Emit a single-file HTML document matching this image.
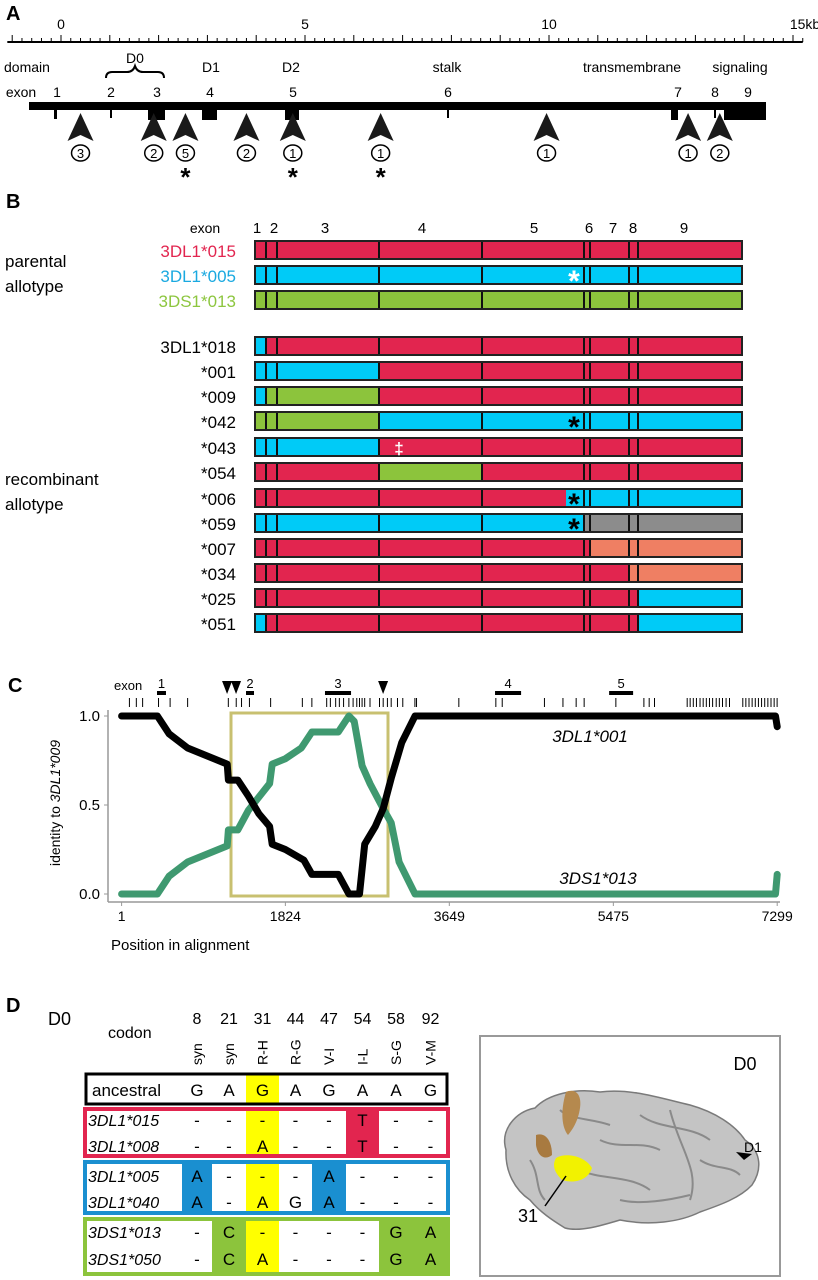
<!DOCTYPE html>
<html><head><meta charset="utf-8"><style>
html,body{margin:0;padding:0;background:#fff;}
svg{display:block;font-family:"Liberation Sans",Arial,sans-serif;}
</style></head><body>
<svg id="fig" width="818" height="1280" viewBox="0 0 818 1280" xmlns="http://www.w3.org/2000/svg">
<!-- PANEL A -->
<g id="panelA">
<text x="6" y="20" font-size="20" font-weight="bold">A</text>
<g id="ruler"></g>
<g font-size="14">
<text x="4" y="72">domain</text>
<text x="135" y="63" text-anchor="middle">D0</text>
<path d="M106,78 q0,-6 6,-6 h15 q6,0 8,-6 q2,6 8,6 h15 q6,0 6,6" fill="none" stroke="#000" stroke-width="2"/>
<text x="211" y="72" text-anchor="middle">D1</text>
<text x="291" y="72" text-anchor="middle">D2</text>
<text x="447" y="72" text-anchor="middle">stalk</text>
<text x="632" y="72" text-anchor="middle">transmembrane</text>
<text x="740" y="72" text-anchor="middle">signaling</text>
</g>
<g font-size="14" text-anchor="middle">
<text x="21" y="97">exon</text>
<text x="57" y="97">1</text><text x="111" y="97">2</text><text x="157" y="97">3</text><text x="210" y="97">4</text><text x="293" y="97">5</text><text x="448" y="97">6</text><text x="678" y="97">7</text><text x="715" y="97">8</text><text x="748" y="97">9</text>
</g>
<g fill="#000">
<rect x="29" y="102" width="737" height="8"/>
<rect x="724" y="102" width="42" height="18"/>
<rect x="54" y="110" width="3" height="9"/><rect x="110" y="110" width="2" height="8"/>
<rect x="148" y="110" width="17" height="10"/><rect x="202" y="110" width="15" height="10"/>
<rect x="285" y="110" width="14" height="10"/><rect x="447" y="110" width="2" height="8"/>
<rect x="671" y="110" width="7" height="10"/><rect x="714" y="110" width="2" height="8"/>
</g>
<g id="arrowsA"></g>
</g>

<!-- PANEL B -->
<g id="panelB">
<text x="6" y="208" font-size="20" font-weight="bold">B</text>
<text x="205" y="233" font-size="14" text-anchor="middle">exon</text>
<g font-size="17">
<text x="5" y="267">parental</text>
<text x="5" y="292">allotype</text>
<text x="5" y="485">recombinant</text>
<text x="5" y="510">allotype</text>
</g>
<g id="rowsB"></g>
</g>

<!-- PANEL C -->
<g id="panelC">
<text x="8" y="692" font-size="20" font-weight="bold">C</text>
<text x="114" y="690" font-size="13">exon</text>
<g id="chartC"></g>
</g>

<!-- PANEL D -->
<g id="panelD">
<text x="6" y="1012" font-size="20" font-weight="bold">D</text>
<text x="48" y="1025" font-size="18">D0</text>
<text x="108" y="1038" font-size="16">codon</text>
<g id="tableD"></g>
<rect x="480" y="1036" width="300" height="240" fill="#fff" stroke="#999" stroke-width="2"/>
<text x="745" y="1070" font-size="18" text-anchor="middle">D0</text>
<g>
<path d="M506,1150 C500,1130 515,1112 535,1108 C548,1094 575,1088 600,1092 C630,1088 660,1098 690,1105 C715,1112 735,1125 745,1140 C762,1152 762,1170 752,1185 C740,1198 720,1205 700,1212 C680,1222 650,1226 620,1220 C600,1226 580,1232 565,1228 C552,1220 540,1212 530,1200 C515,1190 505,1172 506,1150 Z" fill="#c4c4c4" stroke="#7a7a7a" stroke-width="1.5"/>
<path d="M560,1110 C570,1120 590,1118 610,1125 M600,1140 C620,1150 640,1140 660,1150 M580,1170 C600,1180 630,1175 650,1190 M640,1115 C660,1130 690,1125 710,1140 M620,1200 C640,1205 670,1200 690,1195 M700,1160 C715,1170 730,1165 740,1175 M530,1160 C540,1175 535,1190 545,1200 M670,1110 C680,1150 700,1170 690,1200" fill="none" stroke="#8a8a8a" stroke-width="2"/>
<path d="M566,1092 C575,1088 582,1094 580,1108 C578,1122 572,1130 568,1135 C562,1128 560,1112 566,1092 Z" fill="#b5894e"/>
<path d="M536,1135 C545,1132 552,1140 552,1155 C546,1160 538,1158 536,1145 Z" fill="#a87a40"/>
<path d="M556,1158 C566,1152 585,1156 592,1168 C588,1180 575,1184 562,1180 C554,1172 552,1165 556,1158 Z" fill="#f2f200"/>
</g>
<line x1="545" y1="1206" x2="566" y2="1176" stroke="#000" stroke-width="1.5"/>
<text x="518" y="1222" font-size="18">31</text>
<path d="M736,1152 l16,2 l-8,6 z" fill="#000"/>
<text x="744" y="1152" font-size="14">D1</text>
</g>
</svg>
<script>
const NS="http://www.w3.org/2000/svg";
function mk(parent,tag,attrs,text){const e=document.createElementNS(NS,tag);for(const k in attrs)e.setAttribute(k,attrs[k]);if(text!==undefined)e.textContent=text;parent.appendChild(e);return e;}

/* ---------- Panel A ---------- */
const rulerKbMin=-1.1, rulerKbMax=15.2;
const rulerLabels=["0","5","10","15kb"];
const rulerLabelKb=[0,5,10,15];
const siteKb=[0.4,1.9,2.55,3.8,4.75,6.55,9.95,12.85,13.5];
const siteCounts=["3","2","5","2","1","1","1","1","2"];
const siteStar=[false,false,true,false,true,true,false,false,false];
function kx(kb){return 61+kb*48.8;}
const ruler=document.getElementById('ruler');
let rl=mk(ruler,'line',{x1:kx(rulerKbMin),x2:kx(rulerKbMax),y1:42,y2:42,stroke:'#000','stroke-width':2});


for(let i=-5;i<=76;i++){const kb=i*0.2;const major=(i%5===0);
 const t=mk(ruler,'line',{x1:kx(kb),x2:kx(kb),y1:major?35:38,y2:42,stroke:'#000','stroke-width':1});
 
 }
rulerLabels.forEach((s,i)=>{const t=mk(ruler,'text',{x:kx(rulerLabelKb[i])+(i===3?12:0),y:29,'font-size':14,'text-anchor':'middle'},s);
 
 });
const arrowsA=document.getElementById('arrowsA');
siteKb.forEach((kb,i)=>{const x=kx(kb);
 const p=mk(arrowsA,'path',{d:`M${x},113 L${x+13},141 L${x},135 L${x-13},141 Z`,fill:'#1a1a1a'});
 
 
 const c=mk(arrowsA,'ellipse',{cx:x,cy:153,rx:9,ry:8,fill:'#fff',stroke:'#000','stroke-width':1.5});
 
 
 const t=mk(arrowsA,'text',{x:x,y:158,'font-size':13,'text-anchor':'middle'},siteCounts[i]);
 
 
 if(siteStar[i]){const s=mk(arrowsA,'text',{x:x,y:186,'font-size':26,'font-weight':'bold','text-anchor':'middle'},'*');
 
 }
});

/* ---------- Panel B ---------- */
const exonNums=["1","2","3","4","5","6","7","8","9"];
const segBounds=[255,266,277,379,482,584,590,629,638,742];
const exonLabelX=[257,274,325,422,534,589,613,633,684];
const rowNames=["3DL1*015","3DL1*005","3DS1*013","3DL1*018","*001","*009","*042","*043","*054","*006","*059","*007","*034","*025","*051"];
const rowNameColor=["#e2254f","#1aa9e0","#8dc63f","#000","#000","#000","#000","#000","#000","#000","#000","#000","#000","#000","#000"];
const rowTop=[241,266,291,337,362,387,412,438,463,489,514,539,564,589,614];
const rowSegs=["RRRRRRRRR","BBBBBBBBB","GGGGGGGGG","BRRRRRRRR","BBBRRRRRR","BGGRRRRRR","GGGBBBBBB","BBBRRRRRR","RRRGRRRRR","RRRRXBBBB","BBBBBYYYY","RRRRRRSSS","RRRRRRRSS","RRRRRRRRB","BRRRRRRRB"];
const rowMark=["","w*","","","","","*","‡","","*","*","","","",""];
const colMap={R:"#e2254f",B:"#00cbf7",G:"#8cc43c",Y:"#8c8c8c",S:"#ef7f63"};
const rowsB=document.getElementById('rowsB');
exonNums.forEach((n,i)=>{const t=mk(rowsB,'text',{x:exonLabelX[i],y:233,'font-size':15,'text-anchor':'middle'},n);
 
 });
rowNames.forEach((nm,r)=>{const y=rowTop[r],h=18;
 const lab=mk(rowsB,'text',{x:236,y:y+16,'font-size':17,'text-anchor':'end',fill:rowNameColor[r]},nm);
 
 
 const g=mk(rowsB,'g',{});
 
 
 for(let s=0;s<9;s++){const code=rowSegs[r][s];const x0=segBounds[s],x1=segBounds[s+1];
  if(code==='X'){const mid=566;
   mk(g,'rect',{x:x0,y:y,width:mid-x0,height:h,fill:colMap.R});
   mk(g,'rect',{x:mid,y:y,width:x1-mid,height:h,fill:colMap.B});
  } else mk(g,'rect',{x:x0,y:y,width:x1-x0,height:h,fill:colMap[code]});}
 for(let s=1;s<9;s++)mk(g,'line',{x1:segBounds[s],x2:segBounds[s],y1:y,y2:y+h,stroke:'#111','stroke-width':2});
 mk(g,'rect',{x:255,y:y,width:487,height:h,fill:'none',stroke:'#222','stroke-width':2});
 const m=rowMark[r];
 if(m){let t;
  if(m==='‡')t=mk(rowsB,'text',{x:399,y:y+16,'font-size':17,'font-weight':'bold',fill:'#fff','text-anchor':'middle'},'‡');
  else t=mk(rowsB,'text',{x:574,y:y+25,'font-size':30,'font-weight':'bold',fill:m==='w*'?'#fff':'#000','text-anchor':'middle'},'*');
  
  }
});

/* ---------- Panel C ---------- */
const posTicks=[1,1824,3649,5475,7299];
const idTicks=[0,0.5,1];
const idTickLabels=["0.0","0.5","1.0"];
const posBlack=[1,400,530,736,1177,1190,1295,1412,1530,1648,1677,1824,2030,2119,2413,2531,2649,2707,2825,2913,3002,3119,3267,7280,7299];
const idBlack=[1,1,0.9,0.82,0.73,0.64,0.64,0.55,0.45,0.38,0.28,0.25,0.19,0.11,0.11,0,0,0.28,0.38,0.48,0.65,0.85,1,1,0.94];
const posGreen=[1,400,530,736,1177,1190,1295,1412,1648,1677,1824,2001,2119,2413,2531,2590,2678,2766,2913,3002,3090,3267,7280,7299];
const idGreen=[0,0,0.1,0.18,0.27,0.36,0.36,0.47,0.62,0.73,0.76,0.82,0.91,0.91,1,0.97,0.72,0.62,0.48,0.4,0.18,0,0,0.11];
const exonCNames=["1","2","3","4","5"];
const exonCStart=[395,1386,2265,4158,5428];
const exonCEnd=[495,1475,2555,4448,5695];
const breakPos=[1175,1275,2912];
const snpPos=[88,165,235,412,541,736,1189,1277,1336,1424,1660,2013,2119,2284,2325,2384,2425,2472,2531,2578,2619,2649,2678,2707,2766,2872,2913,2960,3002,3072,3131,3266,3284,3755,4167,4238,4708,4914,5061,5150,5503,5815,5874,5933,6297,6330,6365,6400,6440,6475,6510,6545,6580,6620,6655,6690,6730,6768,6916,6950,6985,7020,7055,7090,7125,7160,7195,7230,7265,7298];
function px(v){return 121.6+(v-1)/7298*655.6;}
function py(v){return 894-v*178;}
const C=document.getElementById('chartC');
let ax=mk(C,'line',{x1:108,x2:780,y1:902,y2:902,stroke:'#999','stroke-width':1.5});


let ay=mk(C,'line',{x1:108,x2:108,y1:710,y2:902,stroke:'#999','stroke-width':1.5});


posTicks.forEach(v=>{const t=mk(C,'line',{x1:px(v),x2:px(v),y1:902,y2:906,stroke:'#999'});
 
 
 const l=mk(C,'text',{x:px(v),y:921,'font-size':14,'text-anchor':'middle'},String(v));
 
 });
idTicks.forEach((v,i)=>{const t=mk(C,'line',{x1:104,x2:108,y1:py(v),y2:py(v),stroke:'#999'});
 
 
 const l=mk(C,'text',{x:100,y:py(v)+5,'font-size':15,'text-anchor':'end'},idTickLabels[i]);
 
 });
let xt=mk(C,'text',{x:111,y:950,'font-size':15},'Position in alignment');


let yt=mk(C,'text',{x:0,y:0,'font-size':14,'text-anchor':'middle',transform:'translate(60,803) rotate(-90)'});


yt.appendChild(document.createTextNode('identity to '));
mk(yt,'tspan',{'font-style':'italic'},'3DL1*009');
snpPos.forEach(v=>{const t=mk(C,'line',{x1:px(v),x2:px(v),y1:698,y2:707,stroke:'#000','stroke-width':1});
 
 });
exonCNames.forEach((n,i)=>{const x0=px(exonCStart[i]),x1=px(exonCEnd[i]);
 const r=mk(C,'rect',{x:x0,y:691,width:x1-x0,height:4,fill:'#000'});
 
 
 const t=mk(C,'text',{x:(x0+x1)/2,y:688,'font-size':13,'text-anchor':'middle'},n);
 
 });
breakPos.forEach(v=>{const x=px(v);
 const p=mk(C,'path',{d:`M${x-5},681 L${x+5},681 L${x},694 Z`,fill:'#000'});
 
 });
let box=mk(C,'rect',{x:231,y:713,width:157,height:183,fill:'none',stroke:'#c8c070','stroke-width':3});


function line(pos,ids,color,name){const d=pos.map((v,i)=>(i?'L':'M')+px(v).toFixed(1)+','+py(ids[i]).toFixed(1)).join(' ');
 const p=mk(C,'path',{d:d,fill:'none',stroke:color,'stroke-width':7,'stroke-linejoin':'round','stroke-linecap':'round'});
 
 }
line(posGreen,idGreen,'#3f9970','line-3ds1-013');
line(posBlack,idBlack,'#000','line-3dl1-001');
let l1=mk(C,'text',{x:590,y:742,'font-size':17,'font-style':'italic','text-anchor':'middle'},'3DL1*001');


let l2=mk(C,'text',{x:598,y:884,'font-size':17,'font-style':'italic','text-anchor':'middle'},'3DS1*013');



/* ---------- Panel D ---------- */
const codons=["8","21","31","44","47","54","58","92"];
const changes=["syn","syn","R-H","R-G","V-I","I-L","S-G","V-M"];
const colEdges=[182,212,246,279,312,346,379,413,448];
const ancestral=["G","A","G","A","G","A","A","G"];
const tblNames=["3DL1*015","3DL1*008","3DL1*005","3DL1*040","3DS1*013","3DS1*050"];
const tblVals=[["-","-","-","-","-","T","-","-"],["-","-","A","-","-","T","-","-"],["A","-","-","-","A","-","-","-"],["A","-","A","G","A","-","-","-"],["-","C","-","-","-","-","G","A"],["-","C","A","-","-","-","G","A"]];
const groupColor=["#e2254f","#1a8fd0","#8cc43c"];
const groupFillCols=[[5],[0,4],[1,6,7]];
const groupTop=[1107,1160,1217];
const groupBot=[1158,1215,1276];
const rowY=[1126,1152,1182,1208,1238,1265];
const T=document.getElementById('tableD');
codons.forEach((c,i)=>{const cx=(colEdges[i]+colEdges[i+1])/2;
 const t=mk(T,'text',{x:cx,y:1024,'font-size':16,'text-anchor':'middle'},c);
 
 
 const s=mk(T,'text',{x:0,y:0,'font-size':14,transform:`translate(${cx+5},1065) rotate(-90)`},changes[i]);
 
 });
groupTop.forEach((top,g)=>{const gg=mk(T,'g',{});
 
 
 mk(gg,'rect',{x:83,y:top,width:367,height:groupBot[g]-top,fill:groupColor[g]});
 mk(gg,'rect',{x:87,y:top+4,width:colEdges[0]-87,height:groupBot[g]-top-8,fill:'#fff'});
 for(let i=0;i<8;i++){if(groupFillCols[g].includes(i))continue;
  const x0=colEdges[i],x1=(i===7?446:colEdges[i+1]);
  mk(gg,'rect',{x:x0,y:top+4,width:x1-x0,height:groupBot[g]-top-8,fill:i===2?'#ffff00':'#fff'});}
});
let anc=mk(T,'g',{});


mk(anc,'rect',{x:86,y:1074,width:361,height:30,fill:'#fff',stroke:'#000','stroke-width':3});
mk(anc,'rect',{x:246,y:1075.5,width:33,height:27,fill:'#ffff00'});
mk(anc,'text',{x:92,y:1096,'font-size':17},'ancestral');
ancestral.forEach((v,i)=>mk(anc,'text',{x:(colEdges[i]+colEdges[i+1])/2,y:1096,'font-size':17,'text-anchor':'middle'},v));
tblNames.forEach((nm,r)=>{
 const t=mk(T,'text',{x:88,y:rowY[r],'font-size':16,'font-style':'italic'},nm);
 
 
 tblVals[r].forEach((v,i)=>{const c=mk(T,'text',{x:(colEdges[i]+colEdges[i+1])/2,y:rowY[r],'font-size':17,'text-anchor':'middle'},v);
  
  });
});
</script>
</body></html>
